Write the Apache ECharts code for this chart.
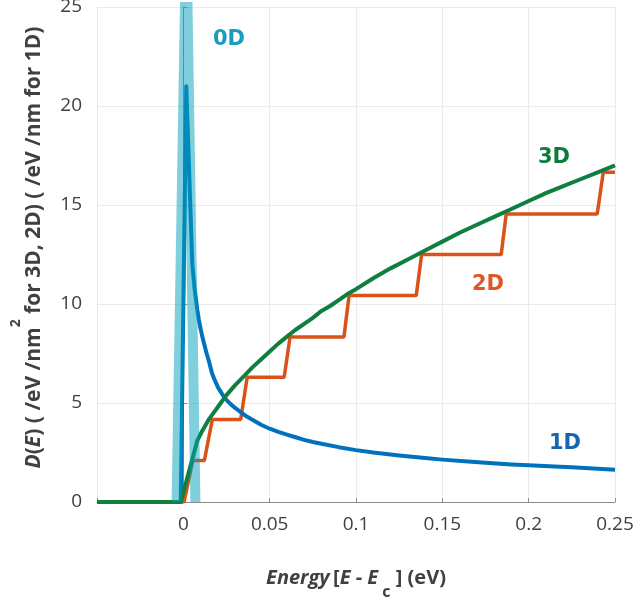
<!DOCTYPE html>
<html>
<head>
<meta charset="utf-8">
<script src="https://cdn.jsdelivr.net/npm/echarts@6/dist/echarts.min.js"></script>
<style>html,body{margin:0;padding:0;background:#fff;}#c{width:634px;height:600px;}</style>
</head>
<body>
<div id="c"></div>
<script>
// ---- data ----
const energy0D = [-0.0039, 0.0017, 0.0070];
const dos0D    = [0, 29, 0];

const energy1D = [-0.05, -0.0015, 0.0017, 0.0052, 0.0065, 0.0081, 0.009, 0.010, 0.011, 0.012, 0.0135, 0.015, 0.0166, 0.018, 0.020, 0.0225, 0.0245, 0.027, 0.030, 0.0342, 0.037, 0.040, 0.045, 0.050, 0.055, 0.060, 0.065, 0.070, 0.075, 0.080, 0.090, 0.100, 0.110, 0.125, 0.140, 0.150, 0.165, 0.175, 0.190, 0.200, 0.215, 0.225, 0.240, 0.250];
const dos1D    = [0, 0, 21.0, 12.0, 10.8, 9.7, 9.2, 8.75, 8.35, 8.0, 7.5, 7.05, 6.5, 6.2, 5.8, 5.45, 5.2, 4.98, 4.75, 4.47, 4.3, 4.15, 3.9, 3.7, 3.54, 3.4, 3.27, 3.14, 3.03, 2.94, 2.77, 2.62, 2.5, 2.35, 2.22, 2.14, 2.04, 1.98, 1.9, 1.86, 1.79, 1.75, 1.68, 1.63];

const energy2D = [-0.05, 0.0004, 0.0055, 0.0122, 0.0168, 0.0332, 0.037, 0.0584, 0.0618, 0.093, 0.096, 0.1349, 0.138, 0.1841, 0.187, 0.2397, 0.2432, 0.25];
const dos2D    = [0, 0, 2.1, 2.1, 4.17, 4.17, 6.3, 6.3, 8.33, 8.33, 10.43, 10.43, 12.5, 12.5, 14.55, 14.55, 16.65, 16.65];

const energy3D = [-0.05, -0.0015, 0.0081, 0.011, 0.013, 0.015, 0.0175, 0.020, 0.0225, 0.025, 0.0275, 0.030, 0.035, 0.040, 0.045, 0.050, 0.055, 0.060, 0.065, 0.070, 0.075, 0.080, 0.085, 0.090, 0.095, 0.100, 0.110, 0.120, 0.130, 0.140, 0.150, 0.160, 0.170, 0.180, 0.190, 0.200, 0.210, 0.220, 0.230, 0.240, 0.250];
const dos3D    = [0, 0, 3.1, 3.6, 3.9, 4.2, 4.5, 4.8, 5.1, 5.4, 5.65, 5.9, 6.35, 6.8, 7.2, 7.6, 8.0, 8.35, 8.7, 9.0, 9.3, 9.65, 9.9, 10.2, 10.5, 10.75, 11.3, 11.8, 12.25, 12.7, 13.15, 13.6, 14.0, 14.4, 14.8, 15.2, 15.6, 15.95, 16.3, 16.65, 17.0];

const xTickLabels = {'0': '0', '0.05': '0.05', '0.1': '0.1', '0.15': '0.15', '0.2': '0.2', '0.25': '0.25'};
const yTicks = [0, 5, 10, 15, 20, 25];
const seriesLabels = ['0D', '1D', '2D', '3D'];

function pairs(xs, ys) { return xs.map((x, i) => [x, ys[i]]); }

const FONT = "'Open Sans', 'Noto Sans', sans-serif";
const LFONT = "'DejaVu Sans', sans-serif";
const TXT = '#404040';

const chart = echarts.init(document.getElementById('c'), null, {renderer: 'canvas'});
const option = {
  animation: false,
  backgroundColor: '#fff',
  grid: {left: 97, right: 19, top: 7, bottom: 98, containLabel: false, outerBoundsMode: 'none'},
  xAxis: {
    type: 'value', min: -0.05, max: 0.25, interval: 0.05,
    axisLine: {show: true, onZero: false, lineStyle: {color: '#8c8c8c', width: 1}},
    axisTick: {show: true, inside: true, length: 4, lineStyle: {color: '#8c8c8c'}},
    splitLine: {show: true, lineStyle: {color: '#ebebeb', width: 1}},
    axisLabel: {
      margin: 13, fontSize: 19, color: TXT, fontFamily: FONT,
      formatter: function (v) { const k = String(Math.round(v * 100) / 100); return xTickLabels[k] !== undefined ? xTickLabels[k] : ''; }
    },
    name: '{bi|Energy} {b|[}{bi|E}{b| - }{bi|E}{sub| c}{b| ] (eV)}',
    nameLocation: 'middle', nameGap: 66,
    nameTextStyle: {
      verticalAlign: 'top',
      rich: {
        bi: {fontSize: 20, fontWeight: 'bold', fontStyle: 'italic', color: TXT, fontFamily: FONT, lineHeight: 40, verticalAlign: 'top'},
        b: {fontSize: 20, fontWeight: 'bold', color: TXT, fontFamily: FONT, lineHeight: 40, verticalAlign: 'top'},
        sub: {fontSize: 16, fontWeight: 'bold', color: TXT, fontFamily: FONT, lineHeight: 40, verticalAlign: 'top', padding: [16, 0, 0, 0]}
      }
    }
  },
  yAxis: {
    type: 'value', min: 0, max: 25, interval: 5,
    axisLine: {show: true, lineStyle: {color: '#8c8c8c', width: 1}},
    axisTick: {show: true, inside: true, length: 4, lineStyle: {color: '#8c8c8c'}},
    splitLine: {show: true, lineStyle: {color: '#ebebeb', width: 1}},
    axisLabel: {
      margin: 15, fontSize: 19, color: TXT, fontFamily: FONT,
      formatter: function (v) { return yTicks.indexOf(v) >= 0 ? String(v) : ''; }
    },
    name: '{bi|D}{b|(}{bi|E}{b|) ( /eV /nm}{sup|2}{b| for 3D, 2D) ( /eV /nm for 1D)}',
    nameLocation: 'middle', nameGap: 38, nameRotate: 90,
    nameTextStyle: {
      padding: [0, 0, 0, 14],
      rich: {
        bi: {fontSize: 21, fontWeight: 'bold', fontStyle: 'italic', color: TXT, fontFamily: FONT, lineHeight: 50, verticalAlign: 'top', padding: [15, 0, 0, 0]},
        b: {fontSize: 21, fontWeight: 'bold', color: TXT, fontFamily: FONT, lineHeight: 50, verticalAlign: 'top', padding: [15, 0, 0, 0]},
        sup: {fontSize: 14, fontWeight: 'bold', color: TXT, fontFamily: FONT, lineHeight: 50, verticalAlign: 'top'}
      }
    }
  },
  series: [
    {name: '2D', type: 'line', data: pairs(energy2D, dos2D), showSymbol: false, z: 2,
     lineStyle: {color: '#D95319', width: 3.5}, itemStyle: {color: '#D95319'}},
    {name: '1D', type: 'line', data: pairs(energy1D, dos1D), showSymbol: false, z: 3,
     lineStyle: {color: '#0072BD', width: 4, join: 'round'}, itemStyle: {color: '#0072BD'}},
    {name: '3D', type: 'line', data: pairs(energy3D, dos3D), showSymbol: false, z: 4,
     lineStyle: {color: '#0E7F3F', width: 4, join: 'round'}, itemStyle: {color: '#0E7F3F'}},
    {name: '0D', type: 'line', data: pairs(energy0D, dos0D), showSymbol: false, z: 5, clip: true,
     lineStyle: {color: 'rgba(0,160,185,0.5)', width: 10, join: 'miter'}, itemStyle: {color: 'rgba(0,160,185,0.5)'}}
  ],
  graphic: [
    {type: 'text', left: 213, top: 29, style: {text: seriesLabels[0], fill: '#1c9bbf', font: "bold 21px " + LFONT}},
    {type: 'text', left: 549, top: 433, style: {text: seriesLabels[1], fill: '#1565b0', font: "bold 21px " + LFONT}},
    {type: 'text', left: 472, top: 274, style: {text: seriesLabels[2], fill: '#de5624', font: "bold 21px " + LFONT}},
    {type: 'text', left: 538, top: 147, style: {text: seriesLabels[3], fill: '#0e7a3d', font: "bold 21px " + LFONT}}
  ]
};
chart.setOption(option);
</script>
</body>
</html>
